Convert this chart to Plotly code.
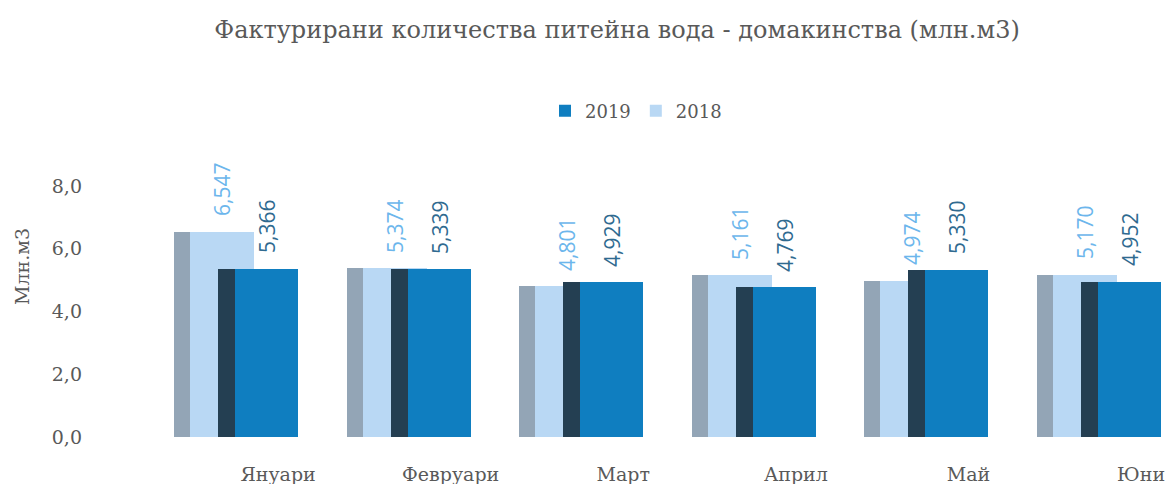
import plotly.graph_objects as go

categories = ["Януари", "Февруари", "Март", "Април", "Май", "Юни"]
values_2019 = [5.366, 5.339, 4.929, 4.769, 5.330, 4.952]
values_2018 = [6.547, 5.374, 4.801, 5.161, 4.974, 5.170]
y_ticks = [0, 2, 4, 6, 8]

title_text = "Фактурирани количества питейна вода - домакинства (млн.м3)"
y_title = "Млн.м3"

positions = list(range(len(categories)))

SERIF = "DejaVu Serif"
GREY = "#595959"

C18_SIDE = "#93A5B6"
C18_FACE = "#B9D8F4"
C19_SIDE = "#243F52"
C19_FACE = "#0F7EC0"
C18_LABEL = "#6CB6EC"
C19_LABEL = "#2F6A90"

LABEL_GAP = 0.40

fig = go.Figure()

# 2018 (back) series: side face + front face
fig.add_trace(go.Bar(x=positions, y=values_2018, offset=-0.603, width=0.093,
                     marker=dict(color=C18_SIDE, line=dict(width=0)),
                     showlegend=False, hoverinfo="skip"))
fig.add_trace(go.Bar(x=positions, y=values_2018, offset=-0.510, width=0.371,
                     name="2018", legendrank=2,
                     marker=dict(color=C18_FACE, line=dict(width=0))))
# 2019 (front) series
fig.add_trace(go.Bar(x=positions, y=values_2019, offset=-0.348, width=0.100,
                     marker=dict(color=C19_SIDE, line=dict(width=0)),
                     showlegend=False, hoverinfo="skip"))
fig.add_trace(go.Bar(x=positions, y=values_2019, offset=-0.249, width=0.365,
                     name="2019", legendrank=1,
                     marker=dict(color=C19_FACE, line=dict(width=0))))

# value labels (transparent carriers sitting just above each bar)
fig.add_trace(go.Bar(x=positions, y=[LABEL_GAP] * len(values_2018), base=values_2018,
                     offset=-0.510, width=0.371,
                     marker=dict(color="rgba(0,0,0,0)", line=dict(width=0)),
                     text=values_2018, texttemplate="%{text:.3f}", textposition="outside",
                     textangle=-90, constraintext="none",
                     textfont=dict(family="Open Sans", size=21, color=C18_LABEL),
                     cliponaxis=False, showlegend=False, hoverinfo="skip"))
fig.add_trace(go.Bar(x=positions, y=[LABEL_GAP] * len(values_2019), base=values_2019,
                     offset=-0.249, width=0.365,
                     marker=dict(color="rgba(0,0,0,0)", line=dict(width=0)),
                     text=values_2019, texttemplate="%{text:.3f}", textposition="outside",
                     textangle=-90, constraintext="none",
                     textfont=dict(family="Open Sans", size=21, color=C19_LABEL),
                     cliponaxis=False, showlegend=False, hoverinfo="skip"))

fig.update_layout(
    width=1173, height=484,
    margin=dict(l=160, r=0, t=150, b=47),
    paper_bgcolor="white", plot_bgcolor="white",
    barmode="overlay", bargap=0,
    separators=", ",
    title=dict(text=title_text, x=617 / 1173, xref="container", xanchor="center",
               y=1 - 30 / 484, yref="container", yanchor="middle",
               font=dict(family=SERIF, size=24, color=GREY)),
    legend=dict(orientation="h", xref="container", yref="container",
                x=636 / 1173, xanchor="center", y=1 - 111 / 484, yanchor="middle",
                font=dict(family=SERIF, size=18, color=GREY),
                traceorder="normal", itemwidth=30),
    showlegend=True,
    xaxis=dict(range=[-0.684, 5.185], tickmode="array", tickvals=positions,
               ticktext=categories, showgrid=False, zeroline=False, showline=False,
               ticks="outside", ticklen=0, ticklabelstandoff=20,
               tickfont=dict(family=SERIF, size=19, color=GREY)),
    yaxis=dict(range=[0, 287 / 31.375], tickmode="array", tickvals=y_ticks,
               tickformat=".1f", showgrid=False, zeroline=False, showline=False,
               ticklabelstandoff=77,
               tickfont=dict(family=SERIF, size=19, color=GREY)),
    annotations=[dict(text=y_title, textangle=-90, xref="paper", yref="paper",
                      x=(22 - 160) / 1013, y=(437 - 267) / 287, xanchor="center",
                      yanchor="middle", showarrow=False,
                      font=dict(family=SERIF, size=19, color=GREY))],
)

fig.write_html("out.html")
